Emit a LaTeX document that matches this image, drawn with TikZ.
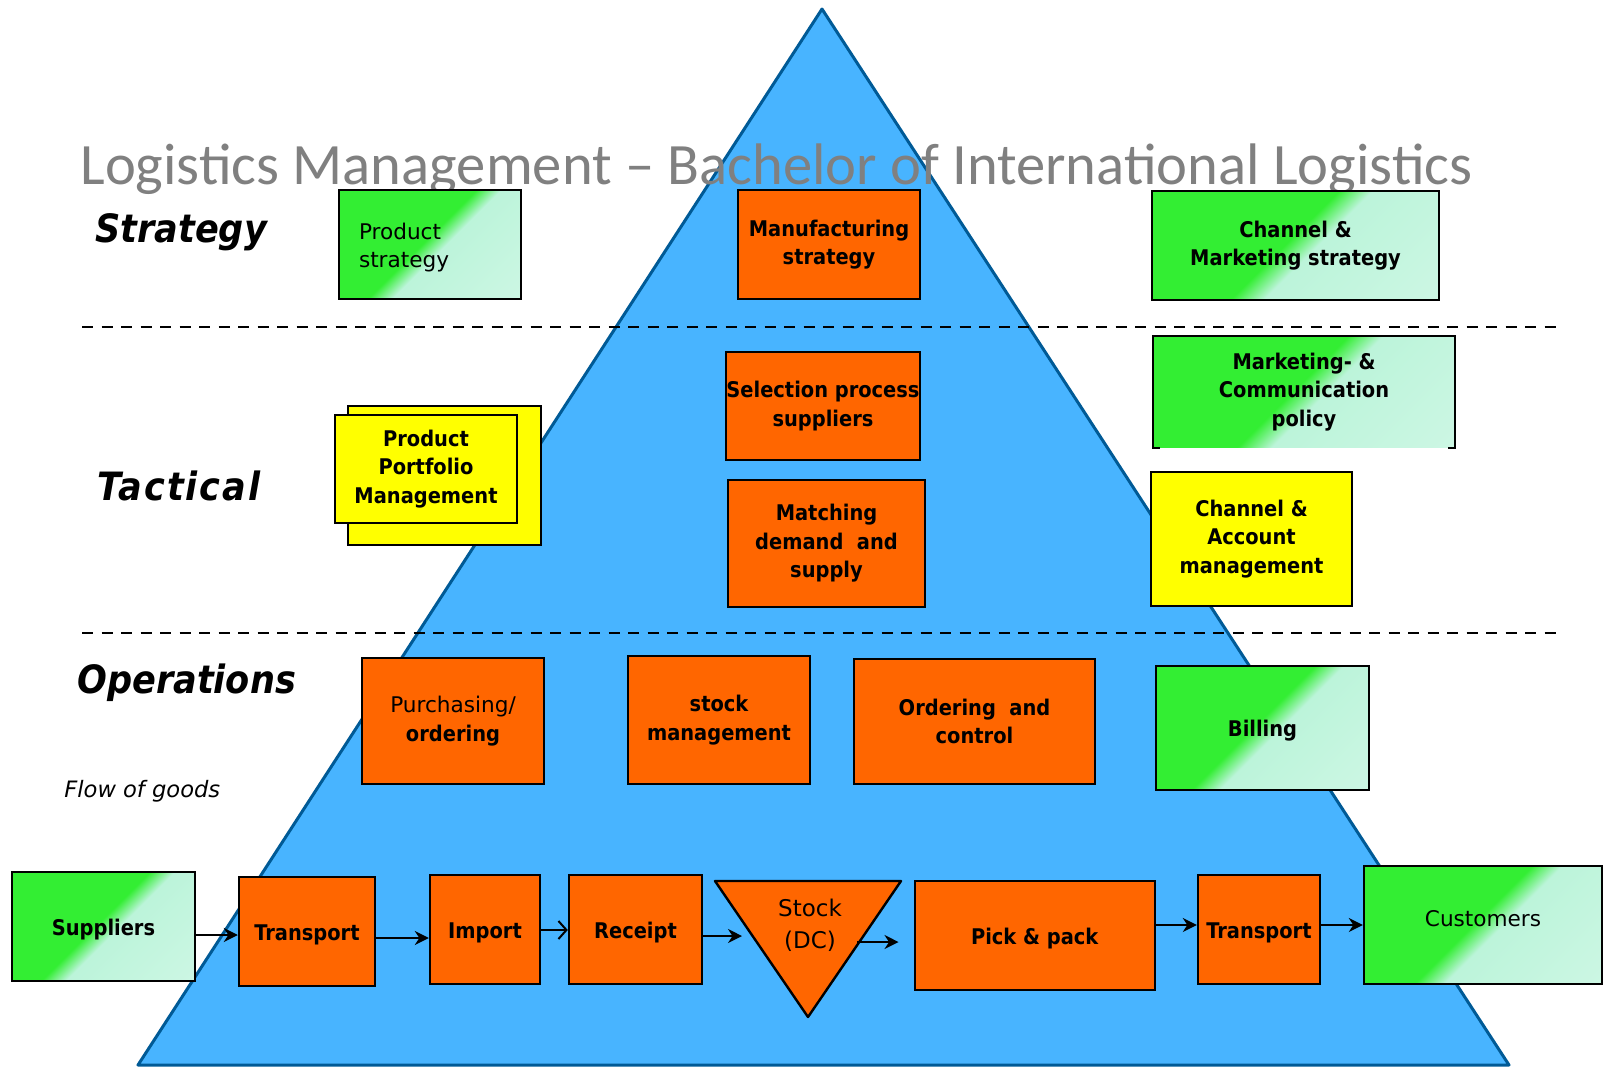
\documentclass[tikz,border=0pt]{standalone}
\usepackage{fontspec}
\usetikzlibrary{arrows.meta}
\IfFontExistsTF{DejaVu Sans Condensed}{%
\newfontfamily\boxfont{DejaVu Sans Condensed}}{%
\newfontfamily\boxfont[FakeStretch=0.9]{DejaVu Sans}}
\newfontfamily\plainfont{DejaVu Sans}
\newfontfamily\titlefont{Carlito}
\definecolor{pyramidblue}{RGB}{72,180,255}
\definecolor{pyramidline}{RGB}{0,90,150}
\definecolor{boxorange}{RGB}{255,102,0}
\definecolor{boxyellow}{RGB}{255,255,0}
\definecolor{boxgreen}{RGB}{51,238,51}
\definecolor{boxmint}{RGB}{188,244,218}
\definecolor{boxmintlight}{RGB}{212,248,232}
\definecolor{titlegray}{RGB}{128,128,128}
\pgfdeclarehorizontalshading{greenfade}{100bp}{color(0bp)=(boxgreen); color(48bp)=(boxgreen); color(54bp)=(boxmint); color(100bp)=(boxmintlight)}

\begin{document}
\begin{tikzpicture}[%
x=0.5pt, y=-0.5pt,
box/.style={draw=black, line width=1.2pt, inner sep=0pt, align=center,
  font=\boxfont\bfseries\fontsize{10.8}{14.3}\selectfont,
  execute at begin node={\rule{0pt}{11.2pt}}},
plaintext/.style={font=\plainfont\fontsize{10.8}{14.3}\selectfont},
orangebox/.style={box, fill=boxorange},
yellowbox/.style={box, fill=boxyellow},
greenbox/.style={box, shading=greenfade, shading angle=-45},
tier/.style={anchor=base west, inner sep=0pt,
  font=\boxfont\bfseries\itshape\fontsize{19.5}{22}\selectfont},
flow/.style={line width=1pt, -{Stealth[length=7pt,width=7pt]}},
tierline/.style={line width=1pt, dash pattern=on 5.5pt off 4.25pt},
]
\useasboundingbox (0,0) rectangle (1604,1067);
%% pyramid;
\filldraw[fill=pyramidblue, draw=pyramidline, line width=1.5pt, line join=round]
  (822,9) -- (1509,1065) -- (138,1065) -- cycle;
%% title;
\node[anchor=base west, inner sep=0pt, text=titlegray,
  font=\titlefont\fontsize{29.3}{34}\selectfont] (title) at (80,184)
  {Logistics Management – Bachelor of International Logistics};
%% level separators;
\draw[tierline] (82,327) -- (1560,327);
\draw[tierline] (82,633) -- (1560,633);
%% level labels;
\node[tier] (strat) at (95,242) {Strategy};
\node[tier] (tact) at (97,500) {\addfontfeature{LetterSpace=5}Tactical};
\node[tier] (oper) at (77,693) {Operations};
\node[anchor=base west, inner sep=0pt,
  font=\plainfont\itshape\fontsize{11.3}{14}\selectfont] (goods) at (64,797) {Flow of goods};
%% strategy;
\node[greenbox, plaintext, minimum width=91pt, minimum height=54.5pt, text width=71pt,
  inner xsep=10pt, align=left] (prodstrat) at (430,244.5) {Product\\strategy};
\node[orangebox, minimum width=91pt, minimum height=54.5pt] (manstrat) at (829,244.5) {Manufacturing\\strategy};
\node[greenbox, minimum width=143.5pt, minimum height=54.5pt] (chanmkt) at (1295.5,245.5) {Channel \&\\Marketing strategy};
%% tactical;
\node[orangebox, minimum width=97pt, minimum height=54pt] (selproc) at (823,406) {Selection process\\suppliers};
\node[orangebox, minimum width=98.5pt, minimum height=63.5pt] (matching) at (826.5,543.5) {Matching\\demand\ \ and\\supply};
\node[yellowbox, minimum width=96.5pt, minimum height=69.5pt] (pfback) at (444.5,475.5) {};
\node[yellowbox, line width=0.8pt, minimum width=91pt, minimum height=54pt] (pf) at (426,469) {Product\\Portfolio\\Management};
\node[greenbox, draw=none, minimum width=150pt, minimum height=55pt] (mktcomm) at (1304,392) {Marketing- \&\\Communication\\policy};
\draw[line width=1.2pt] ([xshift=3.5pt]mktcomm.south west) -- (mktcomm.south west) -- (mktcomm.north west)
  -- (mktcomm.north east) -- (mktcomm.south east) -- ([xshift=-3.5pt]mktcomm.south east);
\node[yellowbox, minimum width=100.5pt, minimum height=67pt] (chanacct) at (1251.5,539) {Channel \&\\Account\\management};
%% operations;
\node[orangebox, minimum width=91pt, minimum height=63pt] (purch) at (453,721) {{\plainfont\mdseries Purchasing/}\\ordering};
\node[orangebox, minimum width=91pt, minimum height=64pt] (stockmgmt) at (719,720) {stock\\management};
\node[orangebox, minimum width=120.5pt, minimum height=62.5pt] (ordering) at (974.5,721.5) {Ordering\ \ and\\control};
\node[greenbox, minimum width=106.5pt, minimum height=62pt] (billing) at (1262.5,728) {Billing};
%% flow of goods;
\node[greenbox, minimum width=91.5pt, minimum height=54.5pt] (sup) at (103.5,926.5) {Suppliers};
\node[orangebox, minimum width=68pt, minimum height=54.5pt] (trone) at (307,931.5) {Transport};
\node[orangebox, minimum width=55pt, minimum height=54.5pt] (imp) at (485,929.5) {Import};
\node[orangebox, minimum width=66.5pt, minimum height=54.5pt] (rec) at (635.5,929.5) {Receipt};
\filldraw[fill=boxorange, draw=black, line width=1.2pt, line join=round]
  (715,881) coordinate (stknw) -- (901,881) coordinate (stkne) -- (808,1017) coordinate (stks) -- cycle;
\node[plaintext, align=center, inner sep=0pt, font=\plainfont\fontsize{11.5}{16}\selectfont] (stock) at (810,925) {Stock\\(DC)};
\node[orangebox, minimum width=120pt, minimum height=54.5pt] (pick) at (1034.7,935.5) {Pick \& pack};
\node[orangebox, minimum width=61pt, minimum height=54.5pt] (trtwo) at (1259,929.5) {Transport};
\node[greenbox, plaintext, minimum width=119pt, minimum height=59pt] (cust) at (1483,925) {\raisebox{6.5pt}{Customers}};
%% connectors;
\coordinate (stkin) at (742,936);
\coordinate (stkout) at (857,942);
\draw[flow] (sup.east |- 0,935) -- (trone.west |- 0,935);
\draw[flow] (trone.east |- 0,938) -- (imp.west |- 0,938);
\draw[line width=1pt, -{Straight Barb[length=4pt,width=9pt]}] (imp.east |- 0,930) -- (rec.west |- 0,930);
\draw[flow] (rec.east |- stkin) -- (stkin);
\draw[flow, shorten >=7.5pt] (stkout) -- (pick.west |- stkout);
\draw[flow] (pick.east |- 0,925) -- (trtwo.west |- 0,925);
\draw[flow] (trtwo.east |- 0,925) -- (cust.west |- 0,925);
\end{tikzpicture}
\end{document}
